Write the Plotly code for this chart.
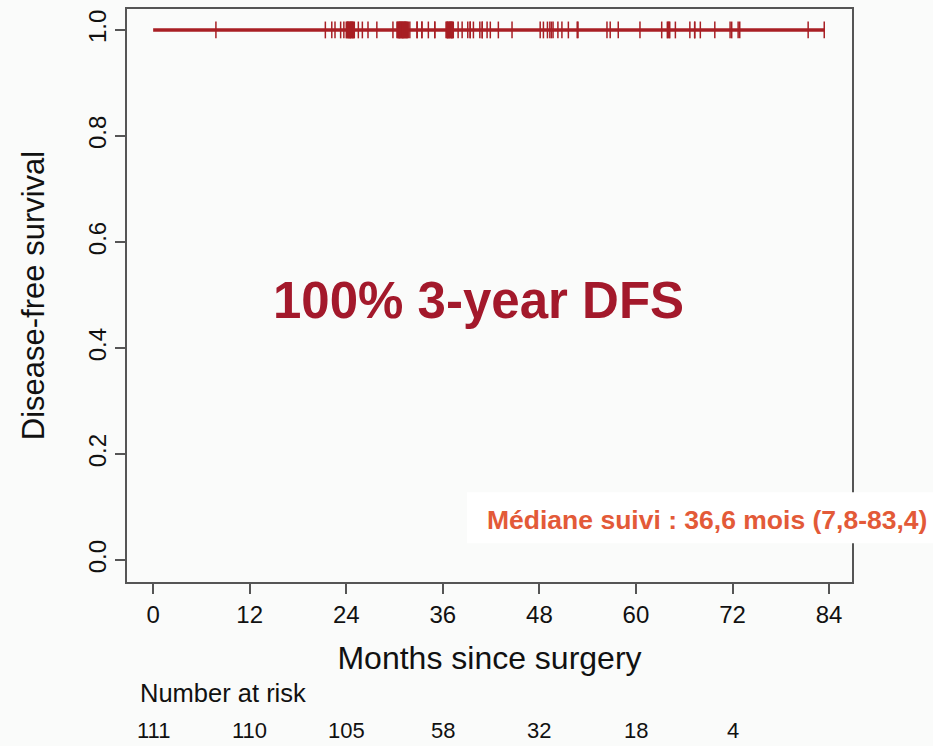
import plotly.graph_objects as go

# Kaplan-Meier curve (no events: survival stays at 1.0)
km_time = [0.0, 83.4]
km_surv = [1.0, 1.0]

censor_times = [
    7.8,
    21.4, 22.2, 22.6, 23.3, 23.7,
    24.0, 24.1, 24.2, 24.2, 24.3, 24.4, 24.5, 24.5, 24.6, 24.7, 24.7, 24.8, 24.9, 25.0,
    25.5, 26.0, 26.7, 27.8, 29.8,
    30.3, 30.4, 30.5, 30.6, 30.6, 30.7, 30.8, 30.8, 30.9, 31.0, 31.0, 31.1, 31.2, 31.2,
    31.3, 31.4, 31.4, 31.5, 31.6, 31.7, 31.9,
    32.8, 32.8, 33.4, 33.4, 34.2, 35.0, 35.0,
    36.4, 36.5, 36.6, 36.6, 36.7, 36.8, 36.9, 36.9, 37.0, 37.1, 37.1, 37.2, 37.3,
    37.9, 38.4, 39.1, 39.4, 39.4, 39.8, 40.6, 40.9, 40.9, 41.5, 41.9, 42.9, 44.6,
    48.1, 48.5, 49.0, 49.3, 49.5, 49.7, 50.3, 50.8, 51.6, 52.7, 52.8, 56.4, 56.8, 57.8,
    60.5, 63.2, 63.9, 64.0, 64.1, 64.2, 64.9, 66.7, 67.3, 67.3, 68.0, 69.8, 71.7, 71.9,
    72.7, 72.9, 81.4, 83.4,
]
censor_surv = [1.0] * len(censor_times)

# Number at risk table
risk_times = [0, 12, 24, 36, 48, 60, 72]
risk_counts = [111, 110, 105, 58, 32, 18, 4]

x_ticks = [0, 12, 24, 36, 48, 60, 72, 84]
y_ticks = [0.0, 0.2, 0.4, 0.6, 0.8, 1.0]
y_tick_text = ["0.0", "0.2", "0.4", "0.6", "0.8", "1.0"]

RED = "#A3192B"
LINE_RED = "#A81F24"
ORANGE = "#E35A38"
BG = "#FAFBFA"
AXIS = "#555555"
FONT = "Liberation Sans, Arial, sans-serif"

fig = go.Figure()
fig.add_trace(go.Scatter(
    x=km_time, y=km_surv, mode="lines",
    line=dict(color=LINE_RED, width=3.5),
    showlegend=False, hoverinfo="skip",
))
fig.add_trace(go.Scatter(
    x=censor_times, y=censor_surv, mode="markers",
    marker=dict(symbol="line-ns", size=12, line=dict(color=LINE_RED, width=1.5)),
    showlegend=False,
))

fig.add_annotation(
    x=40.4, y=0.49, xref="x", yref="y", text="<b>100% 3-year DFS</b>",
    showarrow=False, font=dict(family=FONT, size=51, color=RED),
)

# Number at risk
fig.add_annotation(
    x=0.015, y=-0.193, xref="paper", yref="paper", text="Number at risk",
    xanchor="left", yanchor="middle", showarrow=False,
    font=dict(family=FONT, size=25.5, color="#111"),
)
for t, n in zip(risk_times, risk_counts):
    fig.add_annotation(
        x=t, y=-0.259, xref="x", yref="paper", text=str(n),
        xanchor="center", yanchor="middle", showarrow=False,
        font=dict(family=FONT, size=22, color="#111"),
    )

# Median follow-up box
fig.add_shape(
    type="rect", xref="paper", yref="paper",
    x0=(467 - 127) / 725, x1=(940 - 127) / 725,
    y0=(582 - 543) / 575, y1=(582 - 492) / 575,
    fillcolor="white", line=dict(width=0), layer="above",
)
fig.add_annotation(
    x=(707 - 127) / 725, y=(582 - 520) / 575, xref="paper", yref="paper",
    text="<b>Médiane suivi : 36,6 mois (7,8-83,4)</b>",
    xanchor="center", yanchor="middle", showarrow=False,
    font=dict(family=FONT, size=26.5, color=ORANGE),
)

fig.update_layout(
    width=933, height=746,
    margin=dict(l=127, r=81, t=7, b=164),
    paper_bgcolor=BG, plot_bgcolor=BG,
    font=dict(family=FONT, color="#111"),
    xaxis=dict(
        range=[-3.25, 86.85], tickvals=x_ticks, ticktext=[str(v) for v in x_ticks],
        showgrid=False, zeroline=False, showline=True, linecolor=AXIS, linewidth=1.5,
        mirror=True, ticks="outside", ticklen=10, tickwidth=1.5, tickcolor=AXIS,
        tickfont=dict(size=24, color="#111"),
        title=dict(text="Months since surgery", font=dict(size=32, color="#111"), standoff=20),
    ),
    yaxis=dict(
        range=[-0.041, 1.0395], tickvals=y_ticks, ticktext=y_tick_text, tickangle=-90,
        showgrid=False, zeroline=False, showline=True, linecolor=AXIS, linewidth=1.5,
        mirror=True, ticks="outside", ticklen=10, tickwidth=1.5, tickcolor=AXIS,
        tickfont=dict(size=24, color="#111"),
        title=dict(text="Disease-free survival", font=dict(size=31, color="#111"), standoff=30),
    ),
)

fig.write_html("out.html")
